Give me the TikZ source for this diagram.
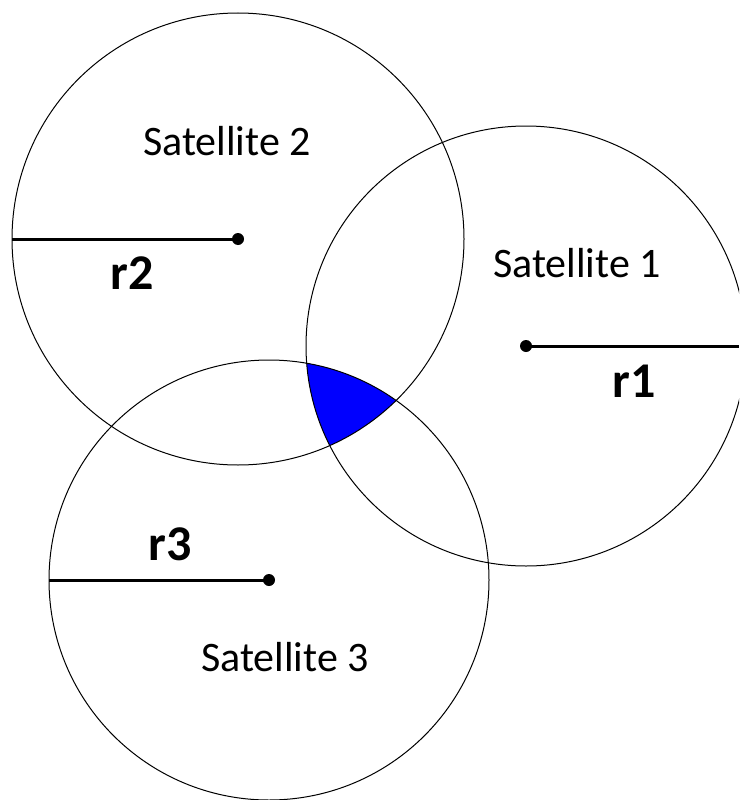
\documentclass[tikz,border=0pt]{standalone}
\usepackage{fontspec}
\setmainfont{Carlito}
\usetikzlibrary{positioning}
\definecolor{fixblue}{RGB}{0,0,255}

\begin{document}
\begin{tikzpicture}[x=1pt,y=-1pt,
  orbit/.style={draw=black, line width=1pt},
  radline/.style={line width=3pt},
  centre/.style={circle, fill=black, inner sep=0pt, minimum size=12pt},
  satname/.style={font=\fontsize{42}{50}\selectfont},
  radname/.style={font=\fontsize{50}{60}\selectfont\bfseries}]
  \clip (0,0) rectangle (739,800);
  % Fix zone where all three spheres meet
  \begin{scope}
    \clip (526,346) circle[radius=220pt];
    \clip (238,239) circle[radius=226pt];
    \fill[fixblue] (269,580) circle[radius=220pt];
  \end{scope}
  % Spheres and their centres
  \foreach \n/\x/\y/\r in {1/526/346/220, 2/238/239/226, 3/269/580/220} {
    \draw[orbit] (\x,\y) circle[radius=\r pt];
    \node[centre] (sat\n) at (\x,\y) {};
  }
  % Radii
  \coordinate (edge1) at (739,346);
  \coordinate (edge2) at (12,239);
  \coordinate (edge3) at (49,580);
  \draw[radline] (sat1.center) -- (edge1);
  \draw[radline] (sat2.center) -- (edge2);
  \draw[radline] (sat3.center) -- (edge3);
  % Labels
  \node[satname] (name1) at (577,263) {Satellite 1};
  \node[satname] (name2) at (227,141) {Satellite 2};
  \node[satname] (name3) at (285,657) {Satellite 3};
  \node[radname] (rad1) at (634,381) {r1};
  \node[radname] (rad2) at (132,273) {r2};
  \node[radname] (rad3) at (170,544) {r3};
\end{tikzpicture}
\end{document}
